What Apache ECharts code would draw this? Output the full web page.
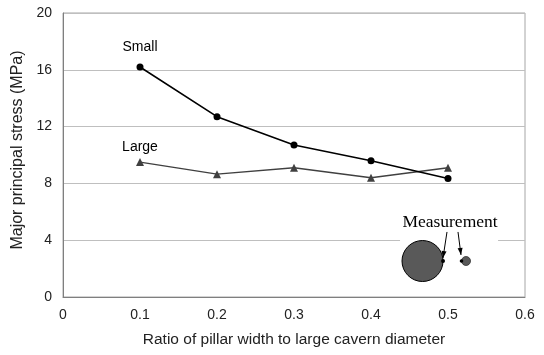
<!DOCTYPE html>
<html><head><meta charset="utf-8">
<script src="https://cdn.jsdelivr.net/npm/echarts@6/dist/echarts.min.js"></script>
<style>html,body{margin:0;padding:0;background:#fff}#c{width:544px;height:355px}</style>
</head><body><div id="c"></div>
<script>
const xValues = [0.1, 0.2, 0.3, 0.4, 0.5];
const smallValues = [16.2, 12.7, 10.7, 9.6, 8.35];
const largeValues = [9.5, 8.65, 9.1, 8.4, 9.1];
const seriesNames = ['Small', 'Large'];
const xTicks = ['0', '0.1', '0.2', '0.3', '0.4', '0.5', '0.6'];
const yTicks = ['0', '4', '8', '12', '16', '20'];

const chart = echarts.init(document.getElementById('c'));
const font = 'Liberation Sans, Arial, sans-serif';
function mk(vals, first) {
  return vals.map((v, i) => {
    const d = { value: [xValues[i], v] };
    if (i === 0) d.label = first;
    return d;
  });
}
chart.setOption({
  animation: false,
  grid: { left: 63, right: 19, top: 13, bottom: 58, show: true, borderColor: '#a6a6a6', borderWidth: 1 },
  xAxis: {
    type: 'value', min: 0, max: 0.6, interval: 0.1,
    name: 'Ratio of pillar width to large cavern diameter', nameLocation: 'middle', nameGap: 35,
    nameTextStyle: { fontFamily: font, fontSize: 15.5, color: '#222' },
    axisLine: { show: true, lineStyle: { color: '#7f7f7f' } },
    axisTick: { show: false },
    splitLine: { show: false },
    axisLabel: { fontFamily: font, fontSize: 14, color: '#222', margin: 11,
      formatter: v => xTicks[Math.round(v * 10)] }
  },
  yAxis: {
    type: 'value', min: 0, max: 20, interval: 4,
    name: 'Major principal stress (MPa)', nameLocation: 'middle', nameGap: 36,
    nameTextStyle: { fontFamily: font, fontSize: 16, color: '#222', padding: [0, 0, 0, 10] },
    axisLine: { show: true, lineStyle: { color: '#7f7f7f' } },
    axisTick: { show: false },
    splitLine: { show: true, lineStyle: { color: '#bfbfbf' } },
    axisLabel: { fontFamily: font, fontSize: 14, color: '#222', margin: 11,
      formatter: v => yTicks[Math.round(v / 4)] }
  },
  series: [
    { name: seriesNames[0], type: 'line', data: mk(smallValues, { show: true, position: 'top', distance: 9.5, formatter: seriesNames[0], fontFamily: font, fontSize: 14, color: '#000' }),
      symbol: 'circle', symbolSize: 7, lineStyle: { color: '#000', width: 1.6 }, itemStyle: { color: '#000' }, z: 3 },
    { name: seriesNames[1], type: 'line', data: mk(largeValues, { show: true, position: 'top', distance: 4, formatter: seriesNames[1], fontFamily: font, fontSize: 14, color: '#000' }),
      symbol: 'triangle', symbolSize: 8, lineStyle: { color: '#404040', width: 1.4 }, itemStyle: { color: '#404040' }, z: 2 }
  ]
});

const p = (x, y) => chart.convertToPixel({ gridIndex: 0 }, [x, y]);
const big = p(0.4669, 2.535), sm = p(0.5234, 2.535);
const box = p(0.4377, 5.4), box2 = p(0.565, 0.6);
const txt = p(0.5026, 5.28);
const a1s = p(0.4987, 4.58), a1e = p(0.4935, 2.75);
const a2s = p(0.513, 4.58), a2e = p(0.5169, 2.96);
function arrow(s, e) {
  return [
    { type: 'line', shape: { x1: s[0], y1: s[1], x2: e[0], y2: e[1] }, style: { stroke: '#000', lineWidth: 1 }, z: 20 },
    { type: 'polygon', z: 20, shape: { points: (() => {
      const dx = e[0] - s[0], dy = e[1] - s[1], L = Math.hypot(dx, dy), ux = dx / L, uy = dy / L;
      const bx = e[0] - ux * 7, by = e[1] - uy * 7;
      return [[e[0], e[1]], [bx - uy * 2.5, by + ux * 2.5], [bx + uy * 2.5, by - ux * 2.5]];
    })() }, style: { fill: '#000' } }
  ];
}
chart.setOption({
  graphic: [
    { type: 'rect', shape: { x: box[0], y: box[1], width: box2[0] - box[0], height: box2[1] - box[1] }, style: { fill: '#fff' }, z: 10 },
    { type: 'text', x: txt[0], y: txt[1], style: { text: 'Measurement', fontFamily: 'Liberation Serif, Times New Roman, serif', fontSize: 17.5, fill: '#000', textAlign: 'center', textVerticalAlign: 'middle' }, z: 20 },
    { type: 'circle', shape: { cx: big[0], cy: big[1], r: 20.5 }, style: { fill: '#595959', stroke: '#000', lineWidth: 1 }, z: 20 },
    { type: 'circle', shape: { cx: sm[0], cy: sm[1], r: 4.5 }, style: { fill: '#595959', stroke: '#333', lineWidth: 0.8 }, z: 20 },
    { type: 'circle', shape: { cx: big[0] + 20.5, cy: big[1], r: 2 }, style: { fill: '#000' }, z: 21 },
    { type: 'circle', shape: { cx: sm[0] - 4.5, cy: sm[1], r: 1.8 }, style: { fill: '#000' }, z: 21 },
    ...arrow(a1s, a1e), ...arrow(a2s, a2e)
  ]
});
</script></body></html>
